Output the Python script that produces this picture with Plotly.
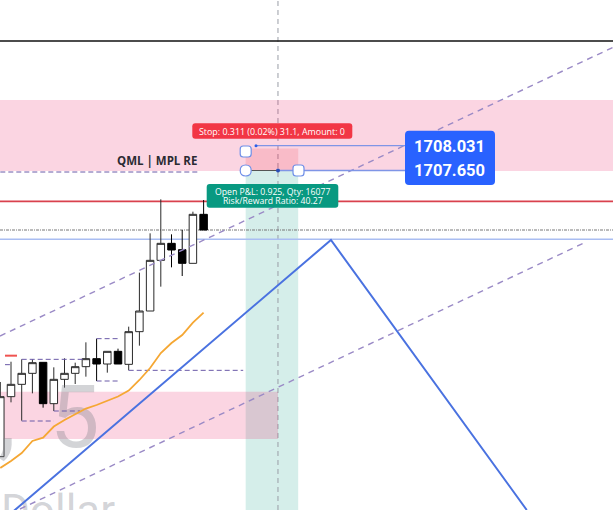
import plotly.graph_objects as go

W, H = 613, 510
X_RANGE = [-0.028, 57.26]
Y_RANGE = [1702.55, 1710.2]

bars = list(range(20))
opens = [1703.35, 1704.25, 1704.435, 1704.60, 1704.765, 1704.145, 1704.51, 1704.60, 1704.70, 1704.82,
         1704.74, 1704.93, 1704.735, 1705.225, 1705.535, 1706.295, 1706.55, 1706.455, 1706.25, 1706.985]
highs = [1704.47, 1704.774, 1704.81, 1704.81, 1704.765, 1704.69, 1704.825, 1704.76, 1705.065, 1705.12,
         1704.93, 1704.97, 1705.30, 1706.11, 1706.70, 1707.21, 1706.685, 1706.75, 1707.025, 1707.20]
lows = [1703.35, 1704.165, 1703.89, 1704.30, 1704.085, 1704.035, 1704.385, 1704.44, 1704.55, 1704.485,
        1704.61, 1704.74, 1704.645, 1705.015, 1705.535, 1705.90, 1706.19, 1706.06, 1706.25, 1706.75]
closes = [1704.25, 1704.435, 1704.60, 1704.76, 1704.145, 1704.51, 1704.60, 1704.70, 1704.82, 1704.74,
          1704.93, 1704.74, 1705.225, 1705.535, 1706.295, 1706.55, 1706.45, 1706.25, 1706.985, 1706.75]
ma_values = [1703.18, 1703.285, 1703.405, 1703.585, 1703.634, 1703.802, 1703.90, 1703.99, 1704.072, 1704.125,
             1704.185, 1704.252, 1704.342, 1704.50, 1704.68, 1704.905, 1705.055, 1705.175, 1705.36, 1705.51]

zigzag_x = [1.0, 30.9, 49.2]
zigzag_y = [1702.5, 1706.60, 1702.55]
channel_upper_x = [-0.028, 57.26]
channel_upper_y = [1705.16, 1709.49]
channel_lower_x = [1.84, 54.74]
channel_lower_y = [1702.565, 1706.57]

# start bar, end bar, price
dashed_levels = [
    (0, 18.66, 1707.62),
    (2, 7.9, 1704.81),
    (2, 5, 1703.885),
    (5, 7.45, 1704.035),
    (9, 11, 1705.12),
    (9, 11, 1704.485),
    (12, 22.7, 1704.645),
    (0.44, 0.9, 1704.73),
]

LINE_TOP = 1709.585
LINE_RED = 1707.18
LINE_DOT = 1706.75
LINE_BLUE = 1706.61
ENTRY = 1707.65
STOP = 1708.031
ZONE_UP = (1707.635, 1708.70)
ZONE_LOW = (1703.615, 1704.325)
POS_X = (22.93, 27.84)
CURSOR_X = 25.95

WATERMARK_COLOR = "rgba(120,123,134,0.33)"
FONT = "Roboto, Open Sans, sans-serif"
LABEL_FONT = "Open Sans, Roboto, sans-serif"


def px(x):
    return x / W


def py(y):
    return 1 - y / H


def rounded(x0, y0, x1, y1, r):
    xa, xb, ya, yb = x0, x1, y0, y1
    return (f"M {px(xa + r)} {py(ya)} L {px(xb - r)} {py(ya)} Q {px(xb)} {py(ya)} {px(xb)} {py(ya + r)} "
            f"L {px(xb)} {py(yb - r)} Q {px(xb)} {py(yb)} {px(xb - r)} {py(yb)} "
            f"L {px(xa + r)} {py(yb)} Q {px(xa)} {py(yb)} {px(xa)} {py(yb - r)} "
            f"L {px(xa)} {py(ya + r)} Q {px(xa)} {py(ya)} {px(xa + r)} {py(ya)} Z")


fig = go.Figure()

# watermark, under the candles
fig.add_trace(go.Scatter(x=[6.95], y=[1703.83], mode="text", text=["5"], textposition="middle center",
                         textfont=dict(size=88, color=WATERMARK_COLOR, family=FONT), hoverinfo="skip"))
fig.add_trace(go.Scatter(x=[0.6], y=[1703.83], mode="text", text=[","], textposition="middle center",
                         textfont=dict(size=92, color=WATERMARK_COLOR, family=FONT), hoverinfo="skip"))
fig.add_trace(go.Scatter(x=[5.4], y=[1702.48], mode="text", text=["Dollar"], textposition="middle center",
                         textfont=dict(size=44, color=WATERMARK_COLOR, family=FONT), hoverinfo="skip",
                         cliponaxis=True))

fig.add_trace(go.Scatter(x=channel_upper_x, y=channel_upper_y, mode="lines",
                         line=dict(color="#9a8ac6", width=1.4, dash="6px,5px"), hoverinfo="skip"))
fig.add_trace(go.Scatter(x=channel_lower_x, y=channel_lower_y, mode="lines",
                         line=dict(color="#9a8ac6", width=1.4, dash="6px,5px"), hoverinfo="skip"))
for x0, x1, level in dashed_levels:
    fig.add_trace(go.Scatter(x=[x0, x1], y=[level, level], mode="lines",
                             line=dict(color="#6a5aa8", width=1, dash="5px,3px"), hoverinfo="skip"))

fig.add_trace(go.Scatter(x=zigzag_x, y=zigzag_y, mode="lines",
                         line=dict(color="#4a72e0", width=2), hoverinfo="skip"))
fig.add_trace(go.Scatter(x=bars, y=ma_values, mode="lines",
                         line=dict(color="#f5a733", width=1.8), hoverinfo="skip"))

fig.add_trace(go.Candlestick(
    x=bars, open=opens, high=highs, low=lows, close=closes, whiskerwidth=0,
    increasing=dict(line=dict(color="#2a2a2a", width=1), fillcolor="#ffffff"),
    decreasing=dict(line=dict(color="#000000", width=1), fillcolor="#000000"),
    hoverinfo="skip"))

shapes = [
    dict(type="rect", xref="x", yref="paper", x0=POS_X[0], x1=POS_X[1], y0=0, y1=py(170.3),
         fillcolor="rgba(8,153,129,0.17)", line_width=0, layer="below"),
    dict(type="rect", xref="x", yref="y", x0=X_RANGE[0], x1=X_RANGE[1], y0=ZONE_UP[0], y1=ZONE_UP[1],
         fillcolor="rgba(233,30,99,0.19)", line_width=0, layer="below"),
    dict(type="rect", xref="x", yref="y", x0=X_RANGE[0], x1=CURSOR_X, y0=ZONE_LOW[0], y1=ZONE_LOW[1],
         fillcolor="rgba(233,30,99,0.19)", line_width=0, layer="below"),
    dict(type="rect", xref="x", yref="y", x0=POS_X[0], x1=POS_X[1], y0=ENTRY, y1=STOP - 0.06,
         fillcolor="rgba(242,54,69,0.16)", line_width=0, layer="below"),
    dict(type="line", xref="x", yref="paper", x0=CURSOR_X, x1=CURSOR_X, y0=0, y1=1,
         line=dict(color="#9a9da6", width=1, dash="5px,4px"), layer="below"),
    dict(type="line", xref="paper", yref="y", x0=0, x1=1, y0=LINE_TOP, y1=LINE_TOP,
         line=dict(color="#111111", width=1.7), layer="below"),
    dict(type="line", xref="paper", yref="y", x0=0, x1=1, y0=LINE_RED, y1=LINE_RED,
         line=dict(color="#d9414e", width=1.6), layer="below"),
    dict(type="line", xref="paper", yref="y", x0=0, x1=1, y0=LINE_DOT, y1=LINE_DOT,
         line=dict(color="#777777", width=1, dash="3px,1px,1px,1px"), layer="below"),
    dict(type="line", xref="paper", yref="y", x0=0, x1=1, y0=LINE_BLUE, y1=LINE_BLUE,
         line=dict(color="#a9bdf2", width=1.5), layer="below"),
    # position tool rails
    dict(type="line", xref="x", yref="paper", x0=POS_X[0], x1=CURSOR_X, y0=py(170.5), y1=py(170.5),
         line=dict(color="#555555", width=1)),
    dict(type="line", xref="x", yref="paper", x0=CURSOR_X, x1=POS_X[1] + 10, y0=py(170.5), y1=py(170.5),
         line=dict(color="#7f95e6", width=1.3)),
    dict(type="line", xref="paper", yref="paper", x0=px(256), x1=px(405), y0=py(145.7), y1=py(145.7),
         line=dict(color="#7f95e6", width=1.3)),
    dict(type="path", xref="paper", yref="paper", path=rounded(405, 130.7, 495, 185, 4),
         fillcolor="#2962ff", line_width=0),
    dict(type="path", xref="paper", yref="paper", path=rounded(192.3, 123.3, 352.3, 138.7, 3),
         fillcolor="#f23645", line_width=0),
    dict(type="path", xref="paper", yref="paper", path=rounded(206.7, 184, 338.3, 207.7, 3),
         fillcolor="#089981", line_width=0),
    dict(type="path", xref="paper", yref="paper", path=rounded(240.2, 146, 251.2, 157, 3),
         fillcolor="#ffffff", line=dict(color="#6f8fe8", width=1.2)),
    dict(type="path", xref="paper", yref="paper", path=rounded(240.2, 165, 251.2, 176, 5.5),
         fillcolor="#ffffff", line=dict(color="#6f8fe8", width=1.2)),
    dict(type="path", xref="paper", yref="paper", path=rounded(293, 165, 304, 176, 3),
         fillcolor="#ffffff", line=dict(color="#6f8fe8", width=1.2)),
    dict(type="path", xref="paper", yref="paper", path=rounded(254.5, 144.2, 257.5, 147.2, 1.5),
         fillcolor="#2a5ee8", line_width=0),
    dict(type="path", xref="paper", yref="paper", path=rounded(276, 168.5, 280, 172.5, 2),
         fillcolor="#2a4fb8", line_width=0),
    # short red marker
    dict(type="line", xref="x", yref="y", x0=0.44, x1=1.56, y0=1704.865, y1=1704.865,
         line=dict(color="#ef5350", width=2)),
]


def label(x, y, text, size, color="#ffffff", family=FONT):
    return dict(xref="paper", yref="paper", x=px(x), y=py(y), text=text, showarrow=False,
                xanchor="center", yanchor="middle", align="center",
                font=dict(size=size, color=color, family=family))


annotations = [
    label(157, 160, "<b>QML | MPL RE</b>", 11.5, "#2b2b33", LABEL_FONT),
    label(272.3, 131, "Stop: 0.311 (0.02%) 31.1, Amount: 0", 8.9, family=LABEL_FONT),
    label(272.5, 191.5, "Open P&amp;L: 0.925, Qty: 16077", 8.7, family=LABEL_FONT),
    label(272.5, 200.8, "Risk/Reward Ratio: 40.27", 8.7, family=LABEL_FONT),
    label(449.5, 146, "<b>1708.031</b>", 16.5),
    label(449.5, 170.5, "<b>1707.650</b>", 16.5),
]

fig.update_layout(
    width=W, height=H, margin=dict(l=0, r=0, t=0, b=0), boxgap=0,
    paper_bgcolor="#ffffff", plot_bgcolor="#ffffff", showlegend=False,
    xaxis=dict(range=X_RANGE, visible=False, rangeslider=dict(visible=False), fixedrange=True),
    yaxis=dict(range=Y_RANGE, visible=False, fixedrange=True),
    shapes=shapes, annotations=annotations,
)
fig.write_html("out.html", config=dict(displayModeBar=False),
               post_script="document.body.style.margin='0';document.body.style.overflow='hidden';")
